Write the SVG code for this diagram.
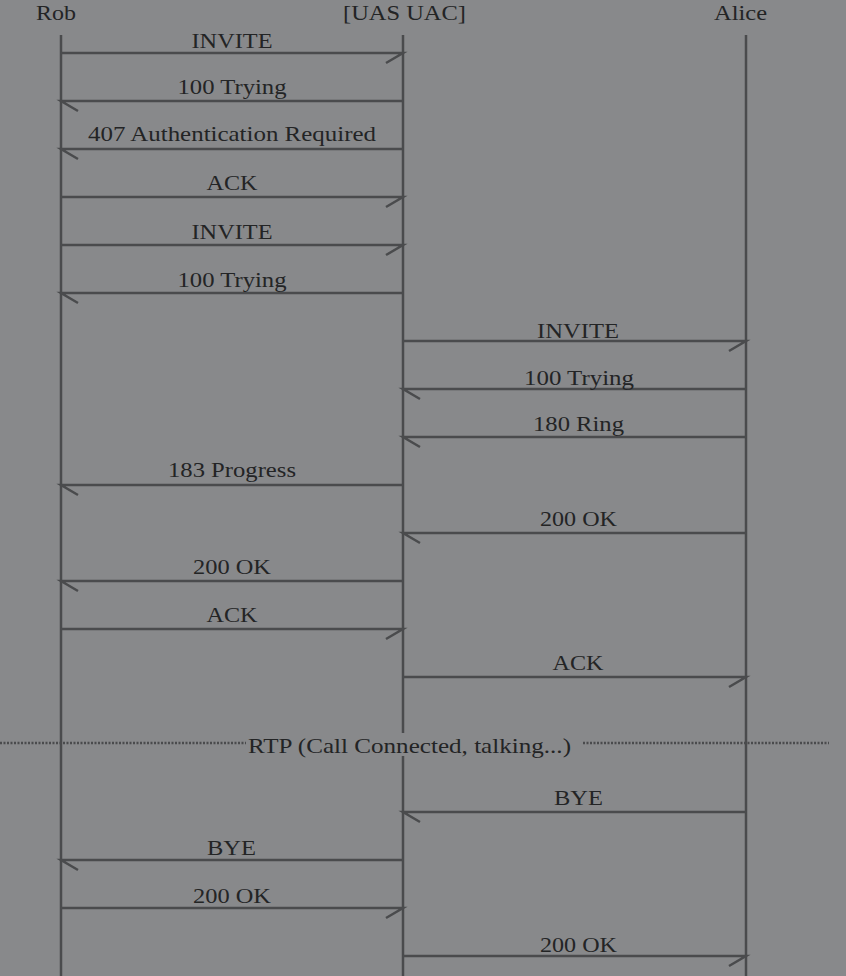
<svg xmlns="http://www.w3.org/2000/svg" width="846" height="976" viewBox="0 0 846 976">
<style>
.bg{fill:#88898b}
.life{stroke:#4a4b4d;stroke-width:2.5;fill:none}
.msg{stroke:#4a4b4d;stroke-width:2.5;fill:none}
.t{font-family:"Liberation Serif","Times New Roman",serif;font-size:21px;fill:#232425;text-anchor:middle}
.dot{stroke:#4a4b4d;stroke-width:2.5;stroke-dasharray:2 1.5;fill:none}
</style>
<rect class="bg" x="0" y="0" width="846" height="976"/>
<g id="rob"><text class="t" x="56" y="20" textLength="40" lengthAdjust="spacingAndGlyphs">Rob</text><line class="life" x1="61" y1="35" x2="61" y2="976"/></g>
<g id="uas"><text class="t" x="404.5" y="20" textLength="123" lengthAdjust="spacingAndGlyphs">[UAS UAC]</text><line class="life" x1="403" y1="35" x2="403" y2="733"/><line class="life" x1="403" y1="756" x2="403" y2="976"/></g>
<g id="alice"><text class="t" x="740.5" y="20" textLength="53" lengthAdjust="spacingAndGlyphs">Alice</text><line class="life" x1="746" y1="35" x2="746" y2="976"/></g>
<g id="connectors">
<path class="msg" d="M61 53H403L386 63"/><text class="t" x="232" y="48" textLength="81" lengthAdjust="spacingAndGlyphs">INVITE</text>
<path class="msg" d="M403 101H61L78 111"/><text class="t" x="232" y="94" textLength="109" lengthAdjust="spacingAndGlyphs">100 Trying</text>
<path class="msg" d="M403 149H61L78 159"/><text class="t" x="232" y="141" textLength="288" lengthAdjust="spacingAndGlyphs">407 Authentication Required</text>
<path class="msg" d="M61 197H403L386 207"/><text class="t" x="232" y="190" textLength="51" lengthAdjust="spacingAndGlyphs">ACK</text>
<path class="msg" d="M61 245H403L386 255"/><text class="t" x="232" y="239" textLength="81" lengthAdjust="spacingAndGlyphs">INVITE</text>
<path class="msg" d="M403 293H61L78 303"/><text class="t" x="232" y="287" textLength="109" lengthAdjust="spacingAndGlyphs">100 Trying</text>
<path class="msg" d="M403 341H746L729 351"/><text class="t" x="578" y="338" textLength="82" lengthAdjust="spacingAndGlyphs">INVITE</text>
<path class="msg" d="M746 389H403L420 399"/><text class="t" x="579" y="385" textLength="110" lengthAdjust="spacingAndGlyphs">100 Trying</text>
<path class="msg" d="M746 437H403L420 447"/><text class="t" x="578.5" y="431" textLength="91" lengthAdjust="spacingAndGlyphs">180 Ring</text>
<path class="msg" d="M403 485H61L78 495"/><text class="t" x="232" y="477" textLength="128" lengthAdjust="spacingAndGlyphs">183 Progress</text>
<path class="msg" d="M746 533H403L420 543"/><text class="t" x="578.5" y="526" textLength="77" lengthAdjust="spacingAndGlyphs">200 OK</text>
<path class="msg" d="M403 581H61L78 591"/><text class="t" x="232" y="574" textLength="78" lengthAdjust="spacingAndGlyphs">200 OK</text>
<path class="msg" d="M61 629H403L386 639"/><text class="t" x="232" y="622" textLength="51" lengthAdjust="spacingAndGlyphs">ACK</text>
<path class="msg" d="M403 677H746L729 687"/><text class="t" x="578" y="670" textLength="51" lengthAdjust="spacingAndGlyphs">ACK</text>
<line class="dot" x1="0" y1="743" x2="246" y2="743"/><line class="dot" x1="583" y1="743" x2="829" y2="743"/>
<text class="t" x="409.5" y="753" font-size="23" textLength="323" lengthAdjust="spacingAndGlyphs">RTP (Call Connected, talking...)</text>
<path class="msg" d="M746 812H403L420 822"/><text class="t" x="578.5" y="805" textLength="49" lengthAdjust="spacingAndGlyphs">BYE</text>
<path class="msg" d="M403 860H61L78 870"/><text class="t" x="231.5" y="855" textLength="49" lengthAdjust="spacingAndGlyphs">BYE</text>
<path class="msg" d="M61 908H403L386 918"/><text class="t" x="232" y="903" textLength="78" lengthAdjust="spacingAndGlyphs">200 OK</text>
<path class="msg" d="M403 956H746L729 966"/><text class="t" x="578.5" y="952" textLength="77" lengthAdjust="spacingAndGlyphs">200 OK</text>
</g>
</svg>
